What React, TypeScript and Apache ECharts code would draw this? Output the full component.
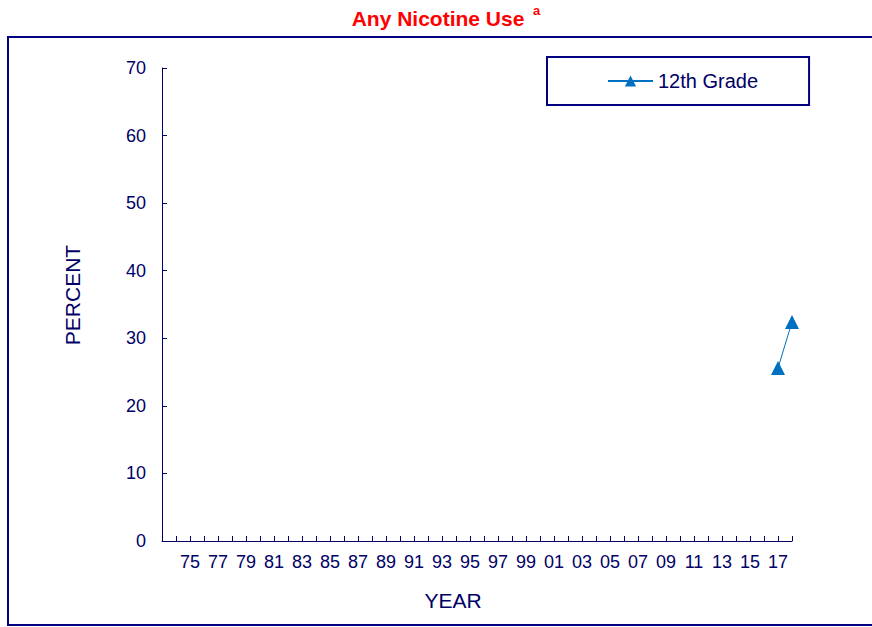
import React, { useEffect, useRef } from "react";
import * as echarts from "echarts";

const years: string[] = [];
for (let y = 1973; y <= 2018; y++) years.push(String(y));
const grade12: (number | null)[] = years.map((y) => (y === "2017" ? 25.6 : y === "2018" ? 32.4 : null));
const seriesName = "12th Grade";
const titleText = "Any Nicotine Use";
const xName = "YEAR";
const yName = "PERCENT";

const NAVY = "#000066";
const FONT = "Liberation Sans, Arial, sans-serif";

export default function App() {
  const ref = useRef<HTMLDivElement>(null);
  useEffect(() => {
    if (!ref.current) return;
    const chart = echarts.init(ref.current, null, { renderer: "svg" });
    chart.setOption({
      animation: false,
      backgroundColor: "#ffffff",
      textStyle: { fontFamily: FONT },
      graphic: [
        {
          type: "rect",
          shape: { x: 8, y: 37, width: 880, height: 588 },
          style: { fill: "none", stroke: "#000080", lineWidth: 2 },
          silent: true,
        },
        {
          type: "text",
          x: 438,
          y: 18,
          style: {
            text: titleText,
            fill: "#ff0000",
            font: `bold 21px ${FONT}`,
            textAlign: "center",
            textVerticalAlign: "middle",
          },
        },
        {
          type: "text",
          x: 533,
          y: 10,
          style: {
            text: "a",
            fill: "#ff0000",
            font: `bold 13px ${FONT}`,
            textAlign: "left",
            textVerticalAlign: "middle",
          },
        },
        {
          type: "text",
          x: 453,
          y: 600,
          style: {
            text: xName,
            fill: NAVY,
            font: `21px ${FONT}`,
            textAlign: "center",
            textVerticalAlign: "middle",
          },
        },
        {
          type: "text",
          x: 72,
          y: 295,
          rotation: Math.PI / 2,
          style: {
            text: yName,
            fill: NAVY,
            font: `21px ${FONT}`,
            textAlign: "center",
            textVerticalAlign: "middle",
          },
        },
      ],
      legend: {
        left: 547,
        top: 57,
        data: [seriesName],
        borderColor: "#000080",
        borderWidth: 2,
        padding: [14, 51, 14, 60],
        itemWidth: 45,
        itemHeight: 14,
        itemGap: 5,
        textStyle: { color: NAVY, fontSize: 20, fontFamily: FONT },
      },
      grid: { left: 162, right: 80, top: 68, bottom: 86, containLabel: false },
      xAxis: {
        type: "category",
        data: years,
        boundaryGap: false,
        axisLine: { lineStyle: { color: NAVY, width: 1 } },
        axisTick: {
          inside: true,
          length: 5,
          interval: 0,
          lineStyle: { color: NAVY },
        },
        axisLabel: {
          color: NAVY,
          fontSize: 18,
          fontFamily: FONT,
          margin: 12,
          interval: (i: number, v: string) => {
            const y = Number(v);
            return y >= 1975 && (y - 1975) % 2 === 0;
          },
          formatter: (v: string) => v.slice(2),
        },
        splitLine: { show: false },
      },
      yAxis: {
        type: "value",
        min: 0,
        max: 70,
        interval: 10,
        axisLine: { show: true, lineStyle: { color: NAVY, width: 1 } },
        axisTick: { show: true, inside: true, length: 5, lineStyle: { color: NAVY } },
        axisLabel: { color: NAVY, fontSize: 18, fontFamily: FONT, margin: 16 },
        splitLine: { show: false },
      },
      series: [
        {
          name: seriesName,
          type: "line",
          data: grade12,
          connectNulls: false,
          symbol: "triangle",
          symbolSize: 14,
          showAllSymbol: true,
          itemStyle: { color: "#0070c0" },
          lineStyle: { color: "#0070c0", width: 1 },
        },
      ],
    });
    return () => chart.dispose();
  }, []);
  return (
    <div
      ref={ref}
      style={{ position: "fixed", left: 0, top: 0, width: 872, height: 627 }}
    />
  );
}
